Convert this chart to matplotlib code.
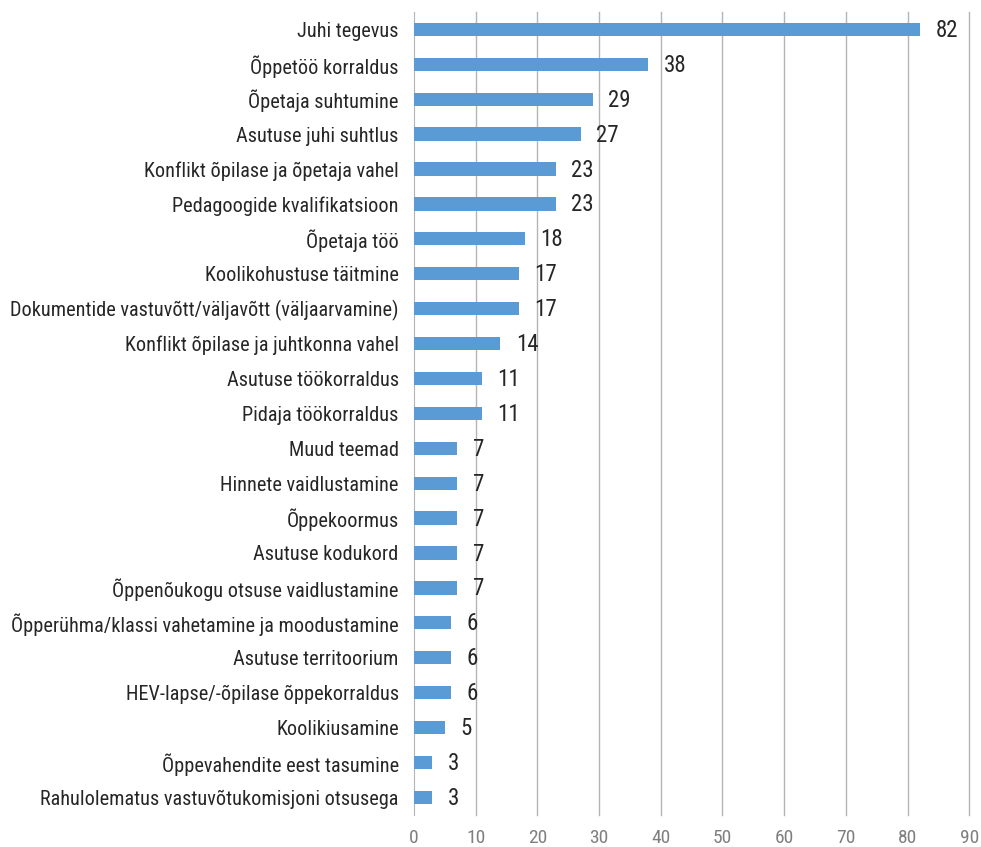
import matplotlib.pyplot as plt
from matplotlib import font_manager

names = {f.name for f in font_manager.fontManager.ttflist}
family = [f for f in ['Roboto Condensed', 'Liberation Sans Narrow', 'Roboto', 'DejaVu Sans'] if f in names]
plt.rcParams['font.family'] = family

categories = [
    "Juhi tegevus",
    "Õppetöö korraldus",
    "Õpetaja suhtumine",
    "Asutuse juhi suhtlus",
    "Konflikt õpilase ja õpetaja vahel",
    "Pedagoogide kvalifikatsioon",
    "Õpetaja töö",
    "Koolikohustuse täitmine",
    "Dokumentide vastuvõtt/väljavõtt (väljaarvamine)",
    "Konflikt õpilase ja juhtkonna vahel",
    "Asutuse töökorraldus",
    "Pidaja töökorraldus",
    "Muud teemad",
    "Hinnete vaidlustamine",
    "Õppekoormus",
    "Asutuse kodukord",
    "Õppenõukogu otsuse vaidlustamine",
    "Õpperühma/klassi vahetamine ja moodustamine",
    "Asutuse territoorium",
    "HEV-lapse/-õpilase õppekorraldus",
    "Koolikiusamine",
    "Õppevahendite eest tasumine",
    "Rahulolematus vastuvõtukomisjoni otsusega",
]
counts = [82, 38, 29, 27, 23, 23, 18, 17, 17, 14, 11, 11, 7, 7, 7, 7, 7, 6, 6, 6, 5, 3, 3]
xticks = list(range(0, 100, 10))

fig = plt.figure(figsize=(9.81, 8.47), dpi=100)
ax = fig.add_axes([0.422, 0.038, 0.566, 0.948])

y = list(range(len(categories)))
ax.barh(y, counts, height=0.38, color='#5B9BD5', zorder=3)
for yi, v in zip(y, counts):
    ax.text(v + 2.5, yi + 0.03, str(v), va='center', ha='left', fontsize=16.5, color='#262626')

ax.set_ylim(len(categories) - 0.5, -0.5)
ax.set_xlim(0, 90)
ax.set_yticks(y)
ax.set_yticklabels(categories, fontsize=14.6, color='#262626')
ax.set_xticks(xticks)
ax.set_xticklabels([str(t) for t in xticks], fontsize=14, color='#7f7f7f')
ax.tick_params(axis='both', length=0)
ax.tick_params(axis='x', pad=10)
ax.tick_params(axis='y', pad=11)
for t in xticks[1:]:
    ax.axvline(t, color='#b4b4b4', linewidth=1, zorder=0, clip_on=False)
for s in ['top', 'right', 'bottom']:
    ax.spines[s].set_visible(False)
ax.spines['left'].set_color('#b4b4b4')

fig.savefig('out.png', dpi=100)
